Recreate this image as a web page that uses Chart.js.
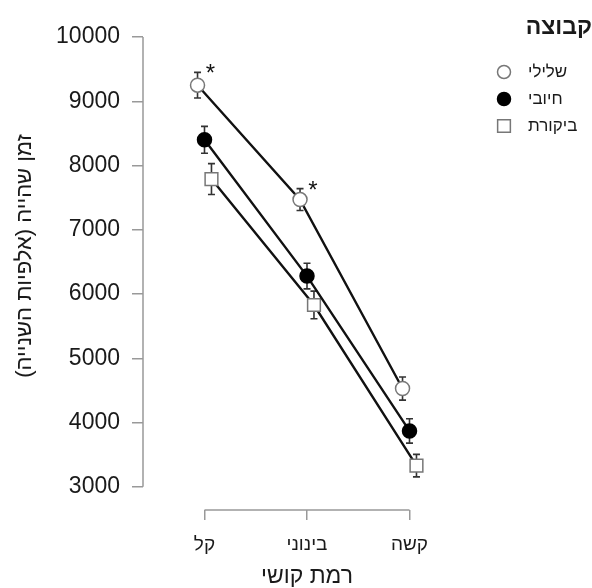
<!DOCTYPE html>
<html>
<head>
<meta charset="utf-8">
<script src="https://cdn.jsdelivr.net/npm/chart.js@4.4.1/dist/chart.umd.min.js"></script>
<style>
  html, body { margin: 0; padding: 0; background: #fff; }
  #wrap { width: 592px; height: 588px; }
</style>
</head>
<body>
<div id="wrap"><canvas id="chart" dir="rtl"></canvas></div>
<script>
const categories = ["קל", "בינוני", "קשה"];
const groups = ["שלילי", "חיובי", "ביקורת"];
const negativeMeans = [9250, 7470, 4530];
const negativeErrors = [200, 170, 180];
const negativeMarks = ["*", "*", ""];
const positiveMeans = [8400, 6280, 3870];
const positiveErrors = [210, 200, 190];
const controlMeans = [7790, 5830, 3330];
const controlErrors = [240, 215, 175];
const yTicks = [3000, 4000, 5000, 6000, 7000, 8000, 9000, 10000];

const FONT = "'Liberation Sans', Arial, sans-serif";
const TEXT = "#1a1a1a";
const AXIS = "#999";
const dodge = [-0.068, 0, 0.068];

function points(means, k) {
  return means.map((v, i) => ({ x: i + dodge[k], y: v }));
}

const datasets = [
  {
    label: groups[0],
    data: points(negativeMeans, 0),
    errors: negativeErrors,
    marks: negativeMarks,
    pointStyle: "circle",
    pointRadius: 7,
    pointBackgroundColor: "#fff",
    pointBorderColor: "#777",
    pointBorderWidth: 1.5,
  },
  {
    label: groups[1],
    data: points(positiveMeans, 1),
    errors: positiveErrors,
    pointStyle: "circle",
    pointRadius: 7,
    pointBackgroundColor: "#000",
    pointBorderColor: "#000",
    pointBorderWidth: 1.5,
  },
  {
    label: groups[2],
    data: points(controlMeans, 2),
    errors: controlErrors,
    pointStyle: "rect",
    pointRadius: 9,
    pointBackgroundColor: "#fff",
    pointBorderColor: "#777",
    pointBorderWidth: 1.5,
  },
].map((d) => ({ ...d, borderColor: "#111", borderWidth: 2.4, fill: false, tension: 0 }));

// error bars, stars, R-style axis lines, y title and legend
const extras = {
  id: "extras",
  beforeDatasetsDraw(chart) {
    const { ctx, scales: { x, y } } = chart;
    ctx.save();
    ctx.strokeStyle = "#333";
    ctx.lineWidth = 1.6;
    chart.data.datasets.forEach((ds) => {
      ds.data.forEach((p, i) => {
        const px = x.getPixelForValue(p.x);
        const top = y.getPixelForValue(p.y + ds.errors[i]);
        const bot = y.getPixelForValue(p.y - ds.errors[i]);
        ctx.beginPath();
        ctx.moveTo(px, top); ctx.lineTo(px, bot);
        ctx.moveTo(px - 3.5, top); ctx.lineTo(px + 3.5, top);
        ctx.moveTo(px - 3.5, bot); ctx.lineTo(px + 3.5, bot);
        ctx.stroke();
      });
    });
    ctx.restore();
  },
  afterDatasetsDraw(chart) {
    const { ctx, chartArea, scales: { x, y } } = chart;
    ctx.save();

    // stars
    ctx.fillStyle = "#111";
    ctx.font = "24px " + FONT;
    ctx.textAlign = "center";
    ctx.textBaseline = "alphabetic";
    chart.data.datasets.forEach((ds) => {
      if (!ds.marks) return;
      ds.data.forEach((p, i) => {
        if (!ds.marks[i]) return;
        const top = y.getPixelForValue(p.y + ds.errors[i]);
        ctx.fillText(ds.marks[i], x.getPixelForValue(p.x) + 13, top + 9);
      });
    });

    // axis lines spanning first to last tick
    ctx.strokeStyle = AXIS;
    ctx.lineWidth = 1.5;
    ctx.beginPath();
    ctx.moveTo(chartArea.left, y.getPixelForValue(yTicks[0]));
    ctx.lineTo(chartArea.left, y.getPixelForValue(yTicks[yTicks.length - 1]));
    ctx.moveTo(x.getPixelForValue(0), chartArea.bottom);
    ctx.lineTo(x.getPixelForValue(categories.length - 1), chartArea.bottom);
    ctx.stroke();

    // y title
    ctx.save();
    ctx.translate(25, 256);
    ctx.rotate(-Math.PI / 2);
    ctx.direction = "rtl";
    ctx.fillStyle = TEXT;
    ctx.font = "22px " + FONT;
    ctx.textAlign = "center";
    ctx.textBaseline = "middle";
    ctx.fillText("זמן שהייה (אלפיות השנייה)", 0, 0);
    ctx.restore();

    // legend
    ctx.direction = "rtl";
    ctx.fillStyle = TEXT;
    ctx.font = "bold 23px " + FONT;
    ctx.textAlign = "right";
    ctx.textBaseline = "middle";
    ctx.fillText("קבוצה", 592, 28);
    ctx.font = "17px " + FONT;
    ctx.textAlign = "left";
    chart.data.datasets.forEach((ds, k) => {
      const ly = 72 + k * 27;
      ctx.fillStyle = ds.pointBackgroundColor;
      ctx.strokeStyle = ds.pointBorderColor;
      ctx.lineWidth = 1.5;
      Chart.helpers.drawPoint(ctx, {
        pointStyle: ds.pointStyle,
        radius: ds.pointStyle === "rect" ? 9 : 6.5,
        rotation: 0,
        borderWidth: 1.5,
      }, 504, ly);
      ctx.fillStyle = TEXT;
      ctx.fillText(ds.label, 528, ly);
    });
    ctx.restore();
  },
};

new Chart(document.getElementById("chart"), {
  type: "line",
  data: { datasets },
  plugins: [extras],
  options: {
    responsive: true,
    maintainAspectRatio: false,
    animation: false,
    layout: { padding: { top: 37, right: 121, left: 0, bottom: 0 } },
    plugins: { legend: { display: false }, tooltip: { enabled: false } },
    scales: {
      x: {
        type: "linear",
        min: -0.6,
        max: 2.6,
        afterBuildTicks: (s) => { s.ticks = categories.map((c, i) => ({ value: i })); },
        afterFit: (s) => { s.height = 78; },
        grid: { drawOnChartArea: false, tickLength: 10, color: AXIS, lineWidth: 1.5 },
        border: { display: false },
        ticks: {
          autoSkip: false,
          maxRotation: 0,
          padding: 13,
          color: TEXT,
          font: { family: FONT, size: 19 },
          callback: (v) => categories[v] ?? "",
        },
        title: {
          display: true,
          text: "רמת קושי",
          color: TEXT,
          font: { family: FONT, size: 23 },
          padding: { top: 0, bottom: -2 },
        },
      },
      y: {
        type: "linear",
        min: 2640,
        max: 10000,
        afterBuildTicks: (s) => { s.ticks = yTicks.map((v) => ({ value: v })); },
        afterFit: (s) => { s.width = 143; },
        grid: { drawOnChartArea: false, tickLength: 11, color: AXIS, lineWidth: 1.5 },
        border: { display: false },
        ticks: {
          padding: 12,
          color: TEXT,
          font: { family: FONT, size: 23 },
          callback: (v) => String(v),
        },
      },
    },
  },
});
</script>
</body>
</html>
